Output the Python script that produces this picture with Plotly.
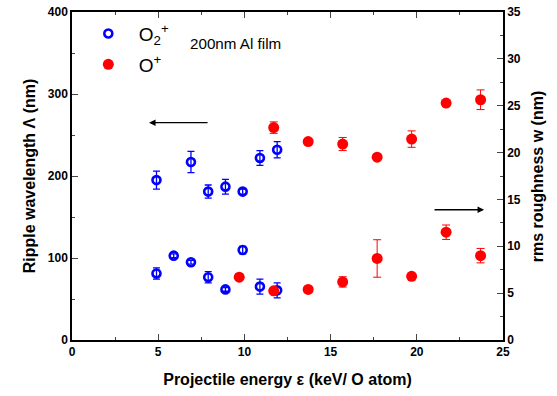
import plotly.graph_objects as go

# ---- data ----
E_blue_lambda = [4.9, 6.9, 7.9, 8.9, 9.9, 10.9, 11.9]
lambda_blue = [195, 217, 181, 187, 181, 222, 232]
lambda_blue_err = [11, 13, 8, 9, 3, 9, 10]

E_blue_w = [4.9, 5.9, 6.9, 7.9, 8.9, 9.9, 10.9, 11.9]
w_blue = [7.1, 9.0, 8.3, 6.7, 5.4, 9.6, 5.7, 5.3]
w_blue_err = [0.6, 0.2, 0.2, 0.6, 0.2, 0.4, 0.8, 0.8]

E_red_lambda = [11.7, 13.7, 15.7, 17.7, 19.7, 21.7, 23.7]
lambda_red = [259, 242, 239, 223, 245, 289, 293]
lambda_red_err = [7, 3, 8, 2, 10, 3, 12]

E_red_w = [9.7, 11.7, 13.7, 15.7, 17.7, 19.7, 21.7, 23.7]
w_red = [6.7, 5.25, 5.4, 6.2, 8.7, 6.8, 11.5, 9.0]
w_red_err = [0.2, 0.2, 0.2, 0.55, 2.0, 0.2, 0.77, 0.77]

x_ticks = [0, 5, 10, 15, 20, 25]
left_ticks = [0, 100, 200, 300, 400]
right_ticks = [0, 5, 10, 15, 20, 25, 30, 35]

left_arrow = dict(head=(4.47, 265), tail=(7.95, 265))
right_arrow = dict(head=(23.9, 13.9), tail=(20.94, 13.9))

BLUE = "#0000FF"
RED = "#FF0000"
FONT = "Liberation Sans, Arial, sans-serif"

fig = go.Figure()

fig.add_trace(go.Scatter(
    x=E_blue_lambda, y=lambda_blue, mode="markers", name="O<sub>2</sub><sup>+</sup>",
    marker=dict(symbol="circle-open", size=8, color=BLUE, line=dict(width=2.6, color=BLUE)),
    error_y=dict(type="data", array=lambda_blue_err, color=BLUE, thickness=1.3, width=3.5),
    legend="legend",
))
fig.add_trace(go.Scatter(
    x=E_blue_w, y=w_blue, mode="markers", yaxis="y2", showlegend=False,
    marker=dict(symbol="circle-open", size=8, color=BLUE, line=dict(width=2.6, color=BLUE)),
    error_y=dict(type="data", array=w_blue_err, color=BLUE, thickness=1.3, width=3.5),
))
fig.add_trace(go.Scatter(
    x=E_red_lambda, y=lambda_red, mode="markers", name="O<sup>+</sup>",
    marker=dict(symbol="circle", size=11, color=RED),
    error_y=dict(type="data", array=lambda_red_err, color=RED, thickness=1, width=4),
    legend="legend2",
))
fig.add_trace(go.Scatter(
    x=E_red_w, y=w_red, mode="markers", yaxis="y2", showlegend=False,
    marker=dict(symbol="circle", size=11, color=RED),
    error_y=dict(type="data", array=w_red_err, color=RED, thickness=1, width=4),
))

tickfont = dict(family=FONT, size=12, color="black", weight="bold")
titlefont = dict(family=FONT, size=16, color="black", weight="bold")
legfont = dict(family=FONT, size=19, color="black")

fig.update_layout(
    width=557, height=396,
    margin=dict(l=72, r=54, t=12, b=56, autoexpand=False),
    paper_bgcolor="white", plot_bgcolor="white",
    font=dict(family=FONT, color="black"),
    xaxis=dict(
        range=[0, 25], tickvals=x_ticks, ticks="inside", ticklen=6, tickwidth=1,
        minor=dict(dtick=2.5, ticklen=3, ticks="inside", tickwidth=1),
        showline=True, linecolor="black", linewidth=1.5, mirror="ticks",
        showgrid=False, zeroline=False, tickfont=tickfont, automargin=False,
        title=dict(text="Projectile energy ε (keV/ O atom)", font=titlefont, standoff=16),
    ),
    yaxis=dict(
        range=[0, 400], tickvals=left_ticks, ticks="inside", ticklen=6, tickwidth=1,
        minor=dict(dtick=50, ticklen=3, ticks="inside", tickwidth=1),
        showline=True, linecolor="black", linewidth=1.5,
        showgrid=False, zeroline=False, tickfont=tickfont, automargin=False,
        title=dict(text="Ripple wavelength Λ (nm)", font=titlefont, standoff=8),
    ),
    yaxis2=dict(
        range=[0, 35], tickvals=right_ticks, ticks="inside", ticklen=6, tickwidth=1,
        minor=dict(dtick=2.5, ticklen=3, ticks="inside", tickwidth=1),
        overlaying="y", side="right",
        showline=True, linecolor="black", linewidth=1.5,
        showgrid=False, zeroline=False, tickfont=tickfont, automargin=False,
    ),
    legend=dict(
        x=0.0135, y=0.992, xanchor="left", yanchor="top",
        bgcolor="rgba(0,0,0,0)", font=legfont, itemwidth=51,
    ),
    legend2=dict(
        x=0.0135, y=0.898, xanchor="left", yanchor="top",
        bgcolor="rgba(0,0,0,0)", font=legfont, itemwidth=51,
    ),
    showlegend=True,
)

fig.add_annotation(
    text="rms roughness w (nm)", xref="paper", yref="paper", x=1.104, y=0.5,
    textangle=-90, showarrow=False, font=titlefont,
)

fig.add_annotation(
    text="200nm Al film", xref="x", yref="y", x=9.5, y=362, showarrow=False,
    font=dict(family=FONT, size=15.2, color="black"),
)

for arr, yref in ((left_arrow, "y"), (right_arrow, "y2")):
    fig.add_annotation(
        x=arr["head"][0], y=arr["head"][1], ax=arr["tail"][0], ay=arr["tail"][1],
        xref="x", yref=yref, axref="x", ayref=yref, text="", showarrow=True,
        arrowhead=2, arrowsize=1, arrowwidth=1.3, arrowcolor="black",
    )

fig.write_html("out.html")
